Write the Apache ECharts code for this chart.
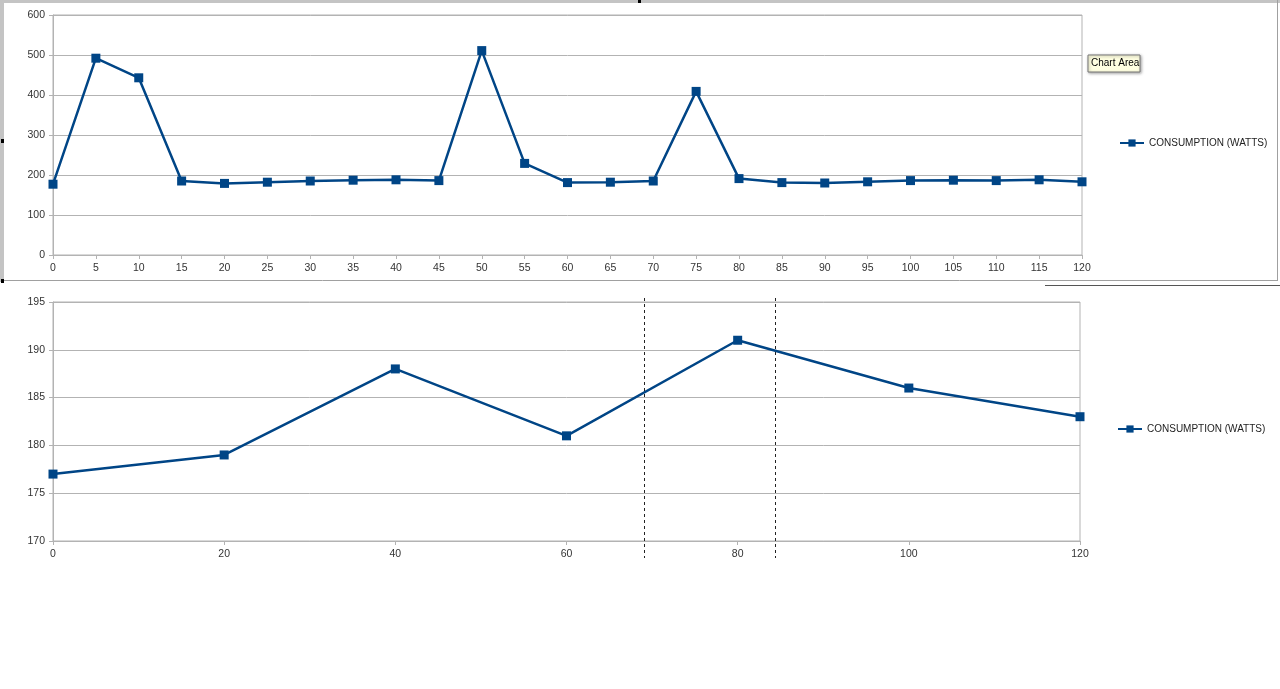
<!DOCTYPE html>
<html>
<head>
<meta charset="utf-8">
<script src="https://cdn.jsdelivr.net/npm/echarts@6/dist/echarts.min.js"></script>
<style>
html,body{margin:0;padding:0;background:#fff;}
#main{width:1280px;height:689px;}
</style>
</head>
<body>
<div id="main"></div>
<script>
// ---- data ----
var seriesName = 'CONSUMPTION (WATTS)';
var topX = [0,5,10,15,20,25,30,35,40,45,50,55,60,65,70,75,80,85,90,95,100,105,110,115,120];
var topY = [177,492,443,185,179,182,185,187,188,186,511,229,181,182,185,409,191,181,180,183,186,187,186,188,183];
var bottomX = [0,20,40,60,80,100,120];
var bottomY = [177,179,188,181,191,186,183];
var cursorX = [69, 84.4];

var blue = '#004586';
var gridCol = '#b3b3b3';
var font = 'Liberation Sans, Arial, sans-serif';

function pairs(xs, ys){ return xs.map(function(x,i){ return [x, ys[i]]; }); }

var chart = echarts.init(document.getElementById('main'), null, {renderer:'canvas'});

function axisX(idx, interval){
  return {
    type:'value', gridIndex: idx, min:0, max:120, interval: interval,
    axisLine:{show:true, lineStyle:{color:gridCol, width:1}},
    axisTick:{show:true, length:4, lineStyle:{color:gridCol}},
    axisLabel:{color:'#333', fontSize:10.5, fontFamily:font, margin:8},
    splitLine:{show:false}
  };
}
function axisY(idx, min, max, interval){
  return {
    type:'value', gridIndex: idx, min:min, max:max, interval:interval,
    axisLine:{show:true, lineStyle:{color:gridCol, width:1}},
    axisTick:{show:true, length:4, lineStyle:{color:gridCol}},
    axisLabel:{color:'#333', fontSize:10.5, fontFamily:font, margin:8},
    splitLine:{show:true, lineStyle:{color:gridCol, width:1}}
  };
}

var option = {
  animation:false,
  backgroundColor:'#fff',
  grid:[
    {left:53, right:198, top:15, bottom:434, show:true, borderColor:gridCol, borderWidth:1, containLabel:false},
    {left:53, right:200, top:302, bottom:148, show:true, borderColor:gridCol, borderWidth:1, containLabel:false}
  ],
  xAxis:[axisX(0,5), axisX(1,20)],
  yAxis:[axisY(0,0,600,100), axisY(1,170,195,5)],
  legend:[
    {left:1114, top:133, itemWidth:24, itemHeight:9, data:[seriesName],
     textStyle:{color:'#222', fontSize:10, fontFamily:font}, itemGap:4},
    {left:1112, top:419, itemWidth:24, itemHeight:9, data:[seriesName],
     textStyle:{color:'#222', fontSize:10, fontFamily:font}, itemGap:4}
  ],
  series:[
    {name:seriesName, type:'line', xAxisIndex:0, yAxisIndex:0, data:pairs(topX, topY),
     symbol:'rect', symbolSize:9, lineStyle:{color:blue, width:2.5}, itemStyle:{color:blue}},
    {name:seriesName, type:'line', xAxisIndex:1, yAxisIndex:1, data:pairs(bottomX, bottomY),
     symbol:'rect', symbolSize:9, lineStyle:{color:blue, width:2.5}, itemStyle:{color:blue}}
  ]
};
chart.setOption(option);

// decorations: selection frame, tooltip, cursor dashed lines
var graphics = [
  {type:'rect', shape:{x:0,y:0,width:1280,height:3}, style:{fill:'#c4c4c4'}, silent:true},
  {type:'rect', shape:{x:0,y:0,width:4,height:282}, style:{fill:'#c4c4c4'}, silent:true},
  {type:'line', shape:{x1:4,y1:280.5,x2:1278,y2:280.5}, style:{stroke:'#a0a0a0', lineWidth:1}, silent:true},
  {type:'line', shape:{x1:1277.5,y1:0,x2:1277.5,y2:281}, style:{stroke:'#a0a0a0', lineWidth:1}, silent:true},
  {type:'line', shape:{x1:1045,y1:285.5,x2:1280,y2:285.5}, style:{stroke:'#555', lineWidth:1}, silent:true},
  {type:'rect', shape:{x:1,y:139,width:3,height:4}, style:{fill:'#000'}, silent:true},
  {type:'rect', shape:{x:638,y:0,width:3,height:3}, style:{fill:'#000'}, silent:true},
  {type:'rect', shape:{x:1,y:279,width:3,height:4}, style:{fill:'#000'}, silent:true},
  {type:'rect', shape:{x:1088,y:55,width:52,height:17},
   style:{fill:'#ffffe1', stroke:'#767676', lineWidth:1, shadowBlur:3, shadowColor:'rgba(0,0,0,0.35)', shadowOffsetX:1, shadowOffsetY:1}, silent:true},
  {type:'text', x:1091, y:58, style:{text:'Chart Area', fill:'#000', font:'10px ' + font}, silent:true}
];
cursorX.forEach(function(v){
  var px = chart.convertToPixel({xAxisIndex:1}, v);
  px = Math.round(px) + 0.5;
  graphics.push({type:'line', shape:{x1:px,y1:298,x2:px,y2:558},
    style:{stroke:'#222', lineWidth:1, lineDash:[3,3]}, silent:true, z:10});
});
chart.setOption({graphic:graphics});
</script>
</body>
</html>
